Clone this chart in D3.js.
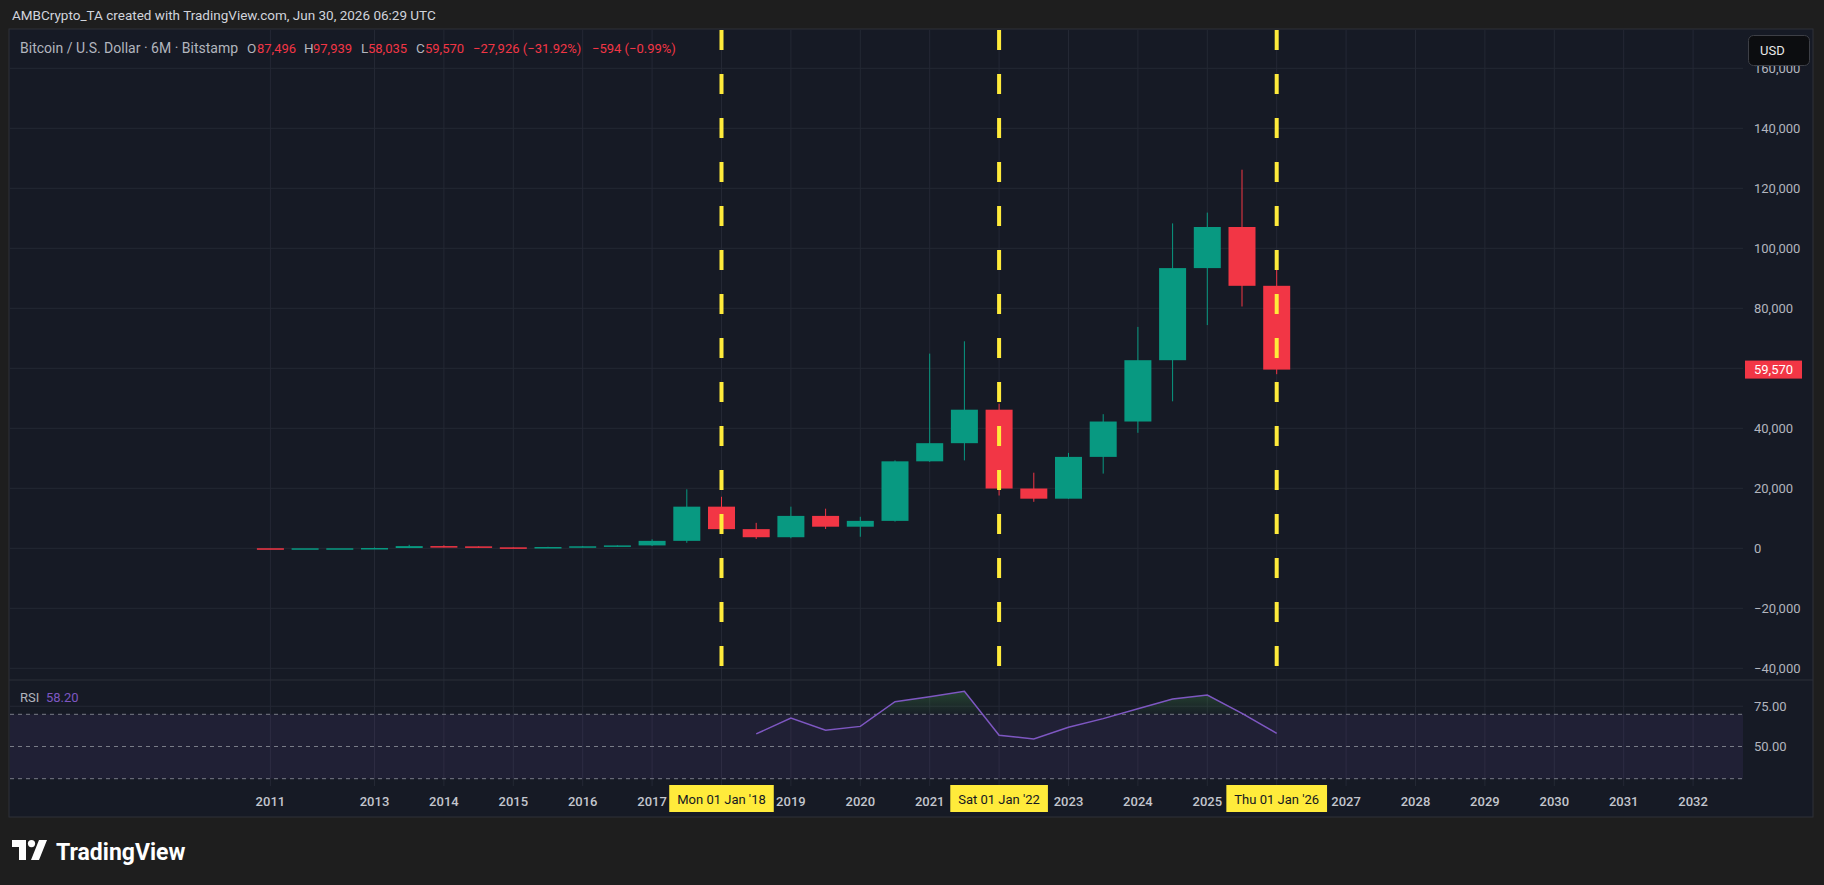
<!DOCTYPE html>
<html>
<head>
<meta charset="utf-8">
<script src="https://cdn.jsdelivr.net/npm/d3@7"></script>
<style>
  html, body { margin: 0; padding: 0; background: #1e1e1e; overflow: hidden; }
  svg { display: block; font-family: Roboto, "Noto Sans", sans-serif; }
</style>
</head>
<body>
<div class="chart"></div>
<script>
// 6M candles, Bitstamp BTC/USD, Jul 2011 .. Jan 2026
const periods = ["Jul 2011", "Jan 2012", "Jul 2012", "Jan 2013", "Jul 2013", "Jan 2014", "Jul 2014", "Jan 2015",
  "Jul 2015", "Jan 2016", "Jul 2016", "Jan 2017", "Jul 2017", "Jan 2018", "Jul 2018", "Jan 2019", "Jul 2019",
  "Jan 2020", "Jul 2020", "Jan 2021", "Jul 2021", "Jan 2022", "Jul 2022", "Jan 2023", "Jul 2023", "Jan 2024",
  "Jul 2024", "Jan 2025", "Jul 2025", "Jan 2026"];
const opens = [10.9, 4.7, 6.7, 13.5, 97.5, 732, 640, 320, 263, 430, 673, 963, 2480, 13880, 6390, 3693, 10800,
  7200, 9140, 28990, 35040, 46200, 19930, 16540, 30470, 42260, 62700, 93400, 107100, 87496];
const highs = [17, 7.2, 16, 266, 1163, 995, 660, 320, 503, 780, 980, 3000, 19666, 17176, 8490, 13880, 13200,
  10500, 29300, 64900, 69000, 48200, 25200, 31800, 44700, 73800, 108300, 111900, 126200, 97939];
const lows = [2.2, 3.8, 6.3, 13.3, 65, 340, 300, 152, 200, 350, 470, 752, 1830, 5920, 3122, 3350, 6430,
  3850, 8900, 28800, 29300, 17600, 15500, 16500, 24900, 38500, 49000, 74400, 80600, 58035];
const closes = [4.7, 6.7, 13.5, 97.5, 732, 640, 320, 263, 430, 673, 963, 2480, 13880, 6390, 3693, 10800, 7200,
  9140, 28990, 35040, 46200, 19930, 16540, 30470, 42260, 62700, 93400, 107100, 87496, 59570];

// RSI(14) starts at bar 14
const rsiStart = 14;
const rsiValues = [57.8, 67.7, 60.1, 62.5, 77.8, 80.9, 84.3, 57.0, 54.7, 61.9, 67.3, 73.5, 79.5, 82.0, 70.6, 58.2];

const priceTicks = [-40000, -20000, 0, 20000, 40000, 60000, 80000, 100000, 120000, 140000, 160000];
const rsiTicks = [75, 50];
const yearLabels = ["2011", "2013", "2014", "2015", "2016", "2017", "2019", "2020", "2021", "2023", "2024",
  "2025", "2027", "2028", "2029", "2030", "2031", "2032"];
const yearIndex = [0, 3, 5, 7, 9, 11, 15, 17, 19, 23, 25, 27, 31, 33, 35, 37, 39, 41];
const gridIndex = [0, 3, 5, 7, 9, 11, 13, 15, 17, 19, 21, 23, 25, 27, 29, 31, 33, 35, 37, 39, 41];
const markerIndex = [13, 21, 29];
const markerLabels = ["Mon 01 Jan '18", "Sat 01 Jan '22", "Thu 01 Jan '26"];

const width = 1824;
const height = 885;
const panelLeft = 9, panelTop = 29, panelRight = 1813, panelBottom = 817;
const paneRight = 1743;
const mainBottom = 680;
const rsiBottom = 786;
const axisX = 1754;

const green = "#089981";
const red = "#f23645";
const gridColor = "#242834";
const textColor = "#b2b5be";

const svg = d3.select(".chart").append("svg").attr("width", width).attr("height", height);

const x = d3.scaleLinear().domain([0, 41]).range([270.4, 1693.1]);
const y = d3.scaleLinear().domain([0, 140000]).range([548.3, 128.3]);
const yRsi = d3.scaleLinear().domain([50, 70]).range([746.5, 714.3]);

const candles = periods.map((p, i) => ({
  period: p, i: i, open: opens[i], high: highs[i], low: lows[i], close: closes[i]
}));
const rsi = rsiValues.map((v, k) => ({ i: rsiStart + k, v: v }));

// page header
svg.append("text")
  .attr("x", 12).attr("y", 20)
  .attr("fill", "#d1d4dc").attr("font-size", 13.5)
  .text("AMBCrypto_TA created with TradingView.com, Jun 30, 2026 06:29 UTC");

// panel
svg.append("rect")
  .attr("x", panelLeft).attr("y", panelTop)
  .attr("width", panelRight - panelLeft).attr("height", panelBottom - panelTop)
  .attr("fill", "#161a25").attr("stroke", "#2e3038");

drawGrid();
drawRsiPane();
drawCandles();
drawMarkers();
drawAxes();
drawLegend();
drawLogo();

function drawGrid() {
  svg.append("g").selectAll("line").data(priceTicks).join("line")
    .attr("x1", panelLeft + 1).attr("x2", paneRight)
    .attr("y1", d => y(d)).attr("y2", d => y(d))
    .attr("stroke", gridColor);

  svg.append("g").selectAll("line").data(gridIndex).join("line")
    .attr("x1", d => x(d)).attr("x2", d => x(d))
    .attr("y1", panelTop + 1).attr("y2", rsiBottom)
    .attr("stroke", gridColor);

  // pane separator
  svg.append("line")
    .attr("x1", panelLeft).attr("x2", panelRight)
    .attr("y1", mainBottom).attr("y2", mainBottom)
    .attr("stroke", "#2a2e39");
}

function drawRsiPane() {
  svg.append("rect")
    .attr("x", panelLeft + 1).attr("y", yRsi(70))
    .attr("width", paneRight - panelLeft - 1).attr("height", yRsi(30) - yRsi(70))
    .attr("fill", "rgba(126,87,194,0.1)");

  svg.append("line")
    .attr("x1", panelLeft + 1).attr("x2", paneRight)
    .attr("y1", yRsi(75)).attr("y2", yRsi(75))
    .attr("stroke", gridColor);

  svg.append("g").selectAll("line").data([70, 50, 30]).join("line")
    .attr("x1", panelLeft + 1).attr("x2", paneRight)
    .attr("y1", d => yRsi(d)).attr("y2", d => yRsi(d))
    .attr("stroke", "#787b86").attr("stroke-dasharray", "4,4");

  const defs = svg.append("defs");
  const grad = defs.append("linearGradient")
    .attr("id", "obFill").attr("gradientUnits", "userSpaceOnUse")
    .attr("x1", 0).attr("x2", 0).attr("y1", yRsi(86)).attr("y2", yRsi(70));
  grad.append("stop").attr("offset", 0).attr("stop-color", "#4caf50").attr("stop-opacity", 0.3);
  grad.append("stop").attr("offset", 1).attr("stop-color", "#4caf50").attr("stop-opacity", 0.03);

  defs.append("clipPath").attr("id", "obClip")
    .append("rect")
    .attr("x", 0).attr("y", mainBottom)
    .attr("width", width).attr("height", yRsi(70) - mainBottom);

  const area = d3.area().x(d => x(d.i)).y0(yRsi(70)).y1(d => yRsi(d.v));
  svg.append("path")
    .attr("d", area(rsi))
    .attr("fill", "url(#obFill)")
    .attr("clip-path", "url(#obClip)");

  const line = d3.line().x(d => x(d.i)).y(d => yRsi(d.v));
  svg.append("path")
    .attr("d", line(rsi))
    .attr("fill", "none")
    .attr("stroke", "#7e57c2")
    .attr("stroke-width", 1.5);

  svg.append("text").attr("x", 20).attr("y", 702)
    .attr("font-size", 13).attr("fill", textColor).text("RSI");
  svg.append("text").attr("x", 46).attr("y", 702)
    .attr("font-size", 13).attr("fill", "#7e57c2").text(rsiValues[rsiValues.length - 1].toFixed(2));
}

function drawCandles() {
  const bodyWidth = 27;
  const g = svg.append("g");

  g.selectAll("line").data(candles).join("line")
    .attr("x1", d => x(d.i)).attr("x2", d => x(d.i))
    .attr("y1", d => y(d.high)).attr("y2", d => y(d.low))
    .attr("stroke", d => d.close >= d.open ? green : red);

  g.selectAll("rect").data(candles).join("rect")
    .attr("x", d => x(d.i) - bodyWidth / 2)
    .attr("width", bodyWidth)
    .attr("y", d => y(Math.max(d.open, d.close)))
    .attr("height", d => Math.max(1.5, Math.abs(y(d.open) - y(d.close))))
    .attr("fill", d => d.close >= d.open ? green : red);
}

function drawMarkers() {
  svg.append("g").selectAll("line").data(markerIndex).join("line")
    .attr("x1", d => x(d)).attr("x2", d => x(d))
    .attr("y1", 30).attr("y2", 668)
    .attr("stroke", "#ffeb3b").attr("stroke-width", 4)
    .attr("stroke-dasharray", "20,24");
}

function drawAxes() {
  const priceAxis = svg.append("g")
    .attr("transform", `translate(${axisX},0)`)
    .call(d3.axisRight(y).tickValues(priceTicks).tickSize(0).tickPadding(0).tickFormat(d3.format(",")));
  priceAxis.select(".domain").remove();
  priceAxis.selectAll("text")
    .attr("font-size", 13).attr("font-family", "Roboto, 'Noto Sans', sans-serif").attr("fill", textColor);
  priceAxis.attr("font-family", null).attr("font-size", null);

  const rsiAxis = svg.append("g")
    .attr("transform", `translate(${axisX},0)`)
    .call(d3.axisRight(yRsi).tickValues(rsiTicks).tickSize(0).tickPadding(0).tickFormat(d3.format(".2f")));
  rsiAxis.select(".domain").remove();
  rsiAxis.selectAll("text").attr("font-size", 13).attr("fill", textColor);
  rsiAxis.attr("font-family", null).attr("font-size", null);

  // year labels
  svg.append("g").selectAll("text").data(yearLabels).join("text")
    .attr("x", (d, k) => x(yearIndex[k]))
    .attr("y", 806)
    .attr("text-anchor", "middle")
    .attr("font-size", 13).attr("font-weight", 500)
    .attr("fill", "#c3c6ce")
    .text(d => d);

  // yellow date labels
  markerIndex.forEach((idx, k) => {
    const g = svg.append("g");
    const t = g.append("text")
      .attr("x", x(idx)).attr("y", 804)
      .attr("text-anchor", "middle")
      .attr("font-size", 13).attr("fill", "#131722")
      .text(markerLabels[k]);
    const w = t.node().getComputedTextLength() + 16;
    g.insert("rect", "text")
      .attr("x", x(idx) - w / 2).attr("y", 785)
      .attr("width", w).attr("height", 27)
      .attr("fill", "#ffeb3b");
  });

  // last price tag
  const last = closes[closes.length - 1];
  svg.append("rect")
    .attr("x", 1745).attr("y", y(last) - 9)
    .attr("width", 57).attr("height", 18)
    .attr("fill", red);
  svg.append("text")
    .attr("x", axisX).attr("y", y(last) + 4.5)
    .attr("font-size", 13).attr("fill", "#ffffff")
    .text(d3.format(",")(last));

  // currency button (covers the top of the 160,000 label)
  svg.append("rect")
    .attr("x", 1748.5).attr("y", 35.5).attr("width", 61).attr("height", 30).attr("rx", 5)
    .attr("fill", "#0c0d10").attr("stroke", "#3d3f46");
  svg.append("text")
    .attr("x", 1760).attr("y", 55)
    .attr("font-size", 13).attr("fill", "#e8e8e8")
    .text("USD");
}

function drawLegend() {
  const c = candles[candles.length - 1];
  const fmt = d3.format(",");
  const change = c.close - c.open;
  const parts = [
    [20, "Bitcoin / U.S. Dollar · 6M · Bitstamp", textColor, 14],
    [247, "O", textColor, 13.5], [257, fmt(c.open), red, 13],
    [304, "H", textColor, 13.5], [313, fmt(c.high), red, 13],
    [361, "L", textColor, 13.5], [368, fmt(c.low), red, 13],
    [416, "C", textColor, 13.5], [425, fmt(c.close), red, 13],
    [473, `${d3.format(",")(change)} (${d3.format(".2f")(change / c.open * 100).replace("-", "−")}%)`, red, 13],
    [592, "−594 (−0.99%)", red, 13]
  ];
  svg.append("g").selectAll("text").data(parts).join("text")
    .attr("x", d => d[0]).attr("y", 53)
    .attr("font-size", d => d[3])
    .attr("fill", d => d[2])
    .text(d => d[1]);
}

function drawLogo() {
  const g = svg.append("g").attr("transform", "translate(12,840)");
  g.append("path").attr("d", "M0 0 H14 V20 H7 V7 H0 Z").attr("fill", "#ffffff");
  g.append("circle").attr("cx", 19.5).attr("cy", 3.6).attr("r", 3.6).attr("fill", "#ffffff");
  g.append("path").attr("d", "M27 0 H35 L27 20 H19 Z").attr("fill", "#ffffff");
  svg.append("text")
    .attr("x", 56).attr("y", 860)
    .attr("font-size", 23).attr("font-weight", 700).attr("fill", "#ffffff")
    .text("TradingView");
}
</script>
</body>
</html>
